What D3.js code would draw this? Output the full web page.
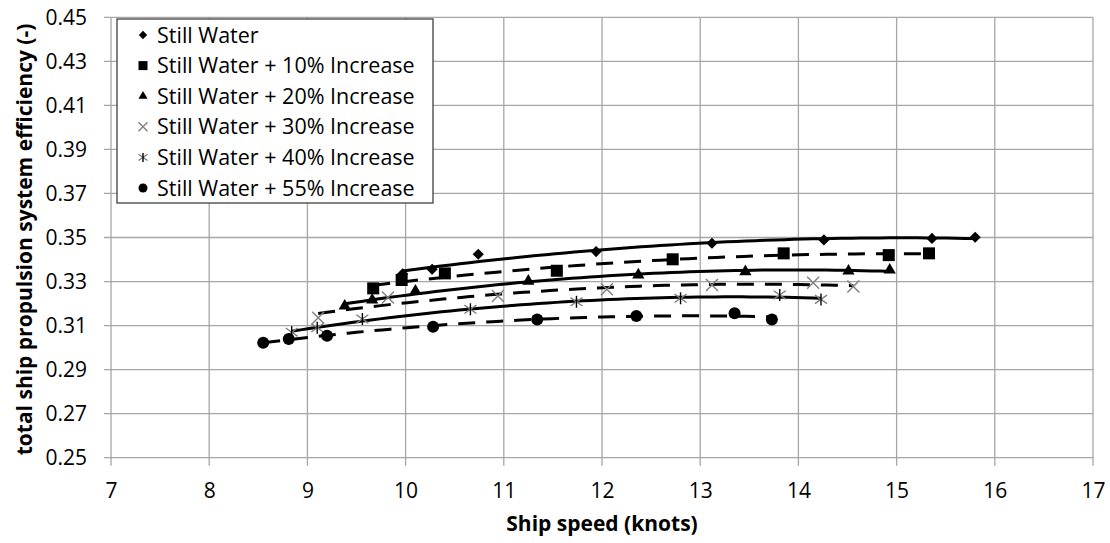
<!DOCTYPE html>
<html>
<head>
<meta charset="utf-8">
<script src="https://cdn.jsdelivr.net/npm/d3@7"></script>
<style>
  body { margin: 0; background: #fff; }
  svg text { font-family: "Open Sans", sans-serif; fill: #000; }
</style>
</head>
<body>
<div id="chart"></div>
<script>
// Series names (legend order)
const seriesNames = [
  "Still Water",
  "Still Water + 10% Increase",
  "Still Water + 20% Increase",
  "Still Water + 30% Increase",
  "Still Water + 40% Increase",
  "Still Water + 55% Increase"
];

// Ship speed (knots) and efficiency (-)
const speedStill = [9.97, 10.27, 10.74, 11.94, 13.12, 14.26, 15.36, 15.80];
const effStill   = [0.3335, 0.3356, 0.3424, 0.3436, 0.3474, 0.3489, 0.3496, 0.3501];
const speed10 = [9.67, 9.96, 10.40, 11.54, 12.72, 13.85, 14.92, 15.33];
const eff10   = [0.3269, 0.3307, 0.3337, 0.3349, 0.3401, 0.3428, 0.3420, 0.3428];
const speed20 = [9.38, 9.66, 10.10, 11.25, 12.37, 13.46, 14.51, 14.93];
const eff20   = [0.3189, 0.3216, 0.3257, 0.3302, 0.3330, 0.3345, 0.3348, 0.3352];
const speed30 = [9.11, 9.82, 10.94, 12.05, 13.12, 14.15, 14.56];
const eff30   = [0.3136, 0.3227, 0.3234, 0.3265, 0.3284, 0.3295, 0.3277];
const speed40 = [8.84, 9.10, 9.56, 10.66, 11.74, 12.80, 13.81, 14.23];
const eff40   = [0.3070, 0.3090, 0.3130, 0.3174, 0.3208, 0.3224, 0.3239, 0.3219];
const speed55 = [8.55, 8.81, 9.20, 10.28, 11.34, 12.35, 13.35, 13.73];
const eff55   = [0.3022, 0.3039, 0.3054, 0.3095, 0.3128, 0.3144, 0.3156, 0.3128];

const xTicks = [7, 8, 9, 10, 11, 12, 13, 14, 15, 16, 17];
const yTicks = [0.25, 0.27, 0.29, 0.31, 0.33, 0.35, 0.37, 0.39, 0.41, 0.43, 0.45];

const speeds = [speedStill, speed10, speed20, speed30, speed40, speed55];
const effs = [effStill, eff10, eff20, eff30, eff40, eff55];
const markers = ["diamond", "square", "triangle", "cross", "asterisk", "circle"];
const dashed = [false, true, false, true, false, true];

const series = seriesNames.map((name, i) => ({
  name,
  marker: markers[i],
  dashed: dashed[i],
  points: speeds[i].map((s, j) => ({ x: s, y: effs[i][j] }))
}));

// 2nd order polynomial trendline (least squares), like the spreadsheet trendline
function polyFit(pts) {
  let s = [0, 0, 0, 0, 0], t = [0, 0, 0];
  pts.forEach(p => {
    let xp = 1;
    for (let k = 0; k < 5; k++) { s[k] += xp; if (k < 3) t[k] += xp * p.y; xp *= p.x; }
  });
  const A = [[s[0], s[1], s[2], t[0]], [s[1], s[2], s[3], t[1]], [s[2], s[3], s[4], t[2]]];
  for (let i = 0; i < 3; i++) {
    for (let r = i + 1; r < 3; r++) {
      const f = A[r][i] / A[i][i];
      for (let c = i; c < 4; c++) A[r][c] -= f * A[i][c];
    }
  }
  const c = [0, 0, 0];
  for (let i = 2; i >= 0; i--) {
    let v = A[i][3];
    for (let k = i + 1; k < 3; k++) v -= A[i][k] * c[k];
    c[i] = v / A[i][i];
  }
  return x => c[0] + c[1] * x + c[2] * x * x;
}

const width = 1110, height = 543;
const marginLeft = 111, marginRight = 17, marginTop = 17.3, marginBottom = 85.3;

const x = d3.scaleLinear().domain([7, 17]).range([marginLeft, width - marginRight]);
const y = d3.scaleLinear().domain([0.25, 0.45]).range([height - marginBottom, marginTop]);

const svg = d3.select("#chart").append("svg")
  .attr("width", width)
  .attr("height", height);

const gridColor = "#a6a6a6";

// gridlines (with the small outside ticks)
svg.append("g")
  .selectAll("line")
  .data(yTicks)
  .join("line")
  .attr("x1", x(7) - 7).attr("x2", x(17))
  .attr("y1", d => y(d)).attr("y2", d => y(d))
  .attr("stroke", gridColor).attr("stroke-width", 1.3);

svg.append("g")
  .selectAll("line")
  .data(xTicks)
  .join("line")
  .attr("x1", d => x(d)).attr("x2", d => x(d))
  .attr("y1", y(0.45)).attr("y2", y(0.25) + 8)
  .attr("stroke", gridColor).attr("stroke-width", 1.3);

// tick labels
svg.append("g")
  .attr("transform", `translate(0,${y(0.25)})`)
  .call(d3.axisBottom(x).tickValues(xTicks).tickFormat(d3.format("d")).tickSize(0).tickPadding(25))
  .call(g => g.select(".domain").remove())
  .call(g => g.selectAll("text").attr("font-size", 21).attr("font-family", "Open Sans"));

svg.append("g")
  .attr("transform", `translate(${x(7)},0)`)
  .call(d3.axisLeft(y).tickValues(yTicks).tickFormat(d3.format(".2f")).tickSize(0).tickPadding(24))
  .call(g => g.select(".domain").remove())
  .call(g => g.selectAll("text").attr("font-size", 21).attr("font-family", "Open Sans"));

// axis titles
svg.append("text")
  .attr("x", (x(7) + x(17)) / 2)
  .attr("y", 531)
  .attr("text-anchor", "middle")
  .attr("font-size", 21)
  .attr("font-weight", "bold")
  .text("Ship speed (knots)");

svg.append("text")
  .attr("transform", `translate(32,${(y(0.25) + y(0.45)) / 2 + 2}) rotate(-90)`)
  .attr("text-anchor", "middle")
  .attr("font-size", 21)
  .attr("font-weight", "bold")
  .text("total ship propulsion system efficiency (-)");

// trendlines
const line = d3.line().x(d => x(d.x)).y(d => y(d.y));
series.forEach(s => {
  const f = polyFit(s.points);
  const [x0, x1] = d3.extent(s.points, d => d.x);
  const pts = d3.range(0, 61).map(k => {
    const xv = x0 + (x1 - x0) * k / 60;
    return { x: xv, y: f(xv) };
  });
  svg.append("path")
    .datum(pts)
    .attr("d", line)
    .attr("fill", "none")
    .attr("stroke", "#000")
    .attr("stroke-width", 3)
    .attr("stroke-dasharray", s.dashed ? "17,11" : null);
});

// marker drawing
function drawMarker(g, type, size) {
  const r = size / 2;
  if (type === "diamond") {
    g.append("path").attr("d", d3.symbol(d3.symbolDiamond2, size * size * 0.55)()).attr("fill", "#000");
  } else if (type === "square") {
    g.append("rect").attr("x", -r).attr("y", -r).attr("width", size).attr("height", size).attr("fill", "#000");
  } else if (type === "triangle") {
    g.append("path").attr("d", d3.symbol(d3.symbolTriangle, size * size * 0.45)()).attr("fill", "#000");
  } else if (type === "circle") {
    g.append("circle").attr("r", r).attr("fill", "#000");
  } else if (type === "cross") {
    g.append("path").attr("d", `M${-r},${-r}L${r},${r}M${-r},${r}L${r},${-r}`)
      .attr("stroke", "#7f7f7f").attr("stroke-width", 1.4).attr("fill", "none");
  } else if (type === "asterisk") {
    g.append("path").attr("d", `M${-r},${-r * 0.7}L${r},${r * 0.7}M${-r},${r * 0.7}L${r},${-r * 0.7}`)
      .attr("stroke", "#7f7f7f").attr("stroke-width", 1.4).attr("fill", "none");
    g.append("path").attr("d", `M0,${-r}L0,${r}`)
      .attr("stroke", "#000").attr("stroke-width", 1.4).attr("fill", "none");
  }
}

series.forEach(s => {
  svg.append("g")
    .selectAll("g")
    .data(s.points)
    .join("g")
    .attr("transform", d => `translate(${x(d.x)},${y(d.y)})`)
    .each(function () { drawMarker(d3.select(this), s.marker, 12); });
});

// legend
const legend = svg.append("g").attr("transform", "translate(117,19)");
legend.append("rect")
  .attr("width", 316).attr("height", 184)
  .attr("fill", "#fff").attr("stroke", "#404040").attr("stroke-width", 1.3);

const items = legend.selectAll("g.item")
  .data(series)
  .join("g")
  .attr("class", "item")
  .attr("transform", (d, i) => `translate(26,${16 + i * 30.6})`);

items.each(function (d) { drawMarker(d3.select(this), d.marker, 9); });

items.append("text")
  .attr("x", 14)
  .attr("dy", "0.35em")
  .attr("font-size", 21.5)
  .text(d => d.name);
</script>
</body>
</html>
